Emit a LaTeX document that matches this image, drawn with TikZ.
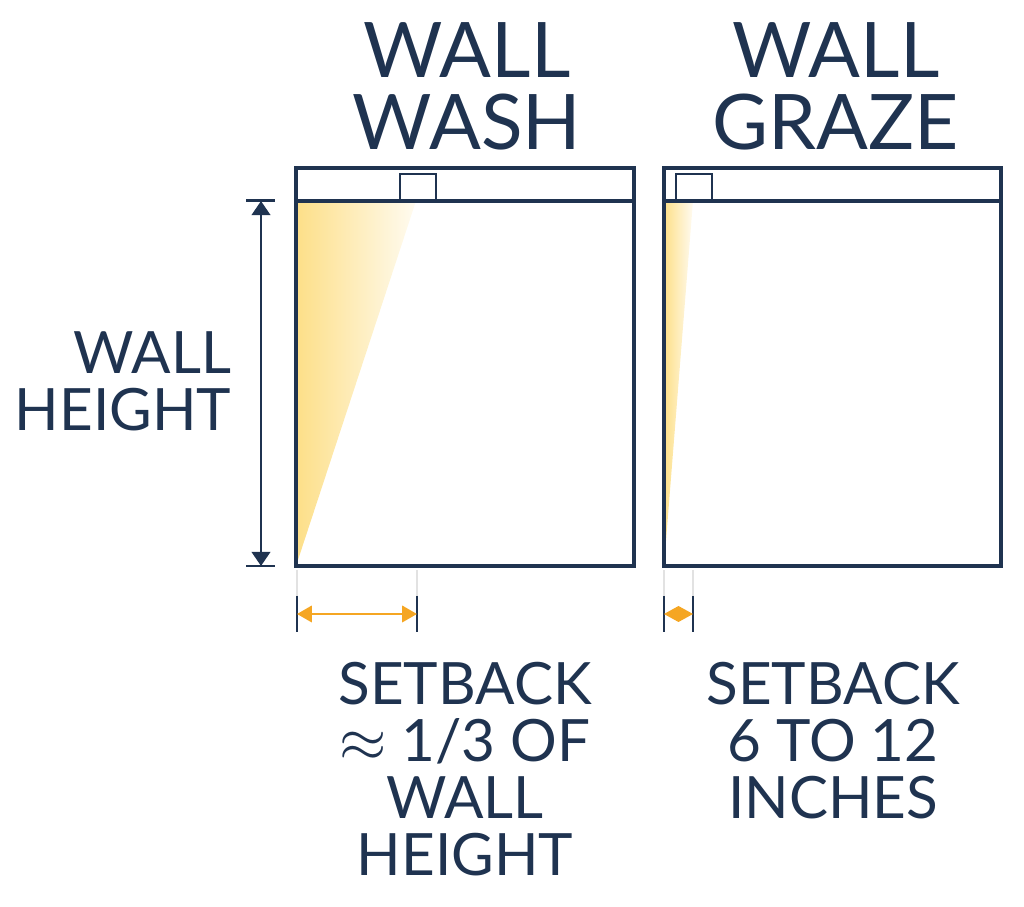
\documentclass[tikz,border=0pt]{standalone}
\usepackage{fontspec}
\setmainfont{Lato}
\usetikzlibrary{arrows.meta}
\definecolor{navy}{HTML}{1F3350}
\definecolor{amber}{HTML}{F5A623}
\definecolor{glow}{HTML}{FDDF88}
\definecolor{guide}{HTML}{E2E2E2}

\begin{document}
\begin{tikzpicture}[
    x=0.01cm, y=-0.01cm,
    wall/.style={draw=navy, line width=0.9pt},
    fixture/.style={draw=navy, line width=0.8pt},
    cone/.style={left color=glow, middle color=glow!55, right color=glow!12},
    title/.style={text=navy, align=center, inner sep=0pt, font=\fontsize{21.8}{20.4}\selectfont},
    label/.style={text=navy, inner sep=0pt, font=\fontsize{16.6}{16.2}\selectfont},
    dim/.style={draw=navy, line width=0.85pt},
    tick/.style={draw=navy, line width=0.8pt},
    setback/.style={draw=amber, line width=0.8pt, {Triangle[width=4.6pt,length=4.2pt]}-{Triangle[width=4.6pt,length=4.2pt]}},
    guideline/.style={draw=guide, line width=0.45pt}
]
    \useasboundingbox (0,0) rectangle (1024,907);

    % titles
    \node[title] (washtitle) at (467,86) {WALL\\WASH};
    \node[title] (grazetitle) at (836,86) {WALL\\GRAZE};

    % wall wash: light cone, then the wall
    \shade[cone] (296,201) -- (416,201) -- (296,566) -- cycle;
    \draw[wall] (296,168) rectangle (634,566);
    \draw[wall] (296,201) -- (634,201);
    \draw[fixture] (400,174) rectangle (436,201);

    % wall graze
    \shade[cone] (664,201) -- (693,201) -- (664,566) -- cycle;
    \draw[wall] (664,168) rectangle (1001,566);
    \draw[wall] (664,201) -- (1001,201);
    \draw[fixture] (676,174) rectangle (712,201);

    % wall height
    \coordinate (htop) at (261,201);
    \coordinate (hbot) at (261,566);
    \draw[dim] (246,201) -- (275,201);
    \draw[dim] (246,566) -- (275,566);
    \draw[dim, {Triangle[width=5.2pt,length=4pt]}-{Triangle[width=5.2pt,length=4pt]}] (htop) -- (hbot);
    \node[label, align=right, anchor=east] (height) at (232,381.5) {WALL\\HEIGHT};

    % setback, wash
    \coordinate (wa) at (297,614);
    \coordinate (wb) at (417,614);
    \draw[guideline] (297,570) -- (297,632);
    \draw[guideline] (417,570) -- (417,632);
    \draw[tick] (297,596) -- (297,632);
    \draw[tick] (417,596) -- (417,632);
    \draw[setback] (wa) -- (wb);
    \node[label, align=center] (washtext) at (465,769) {SETBACK\\$\approx$ 1/3 OF\\WALL\\HEIGHT};

    % setback, graze
    \coordinate (ga) at (664,614);
    \coordinate (gb) at (693,614);
    \draw[guideline] (664,570) -- (664,632);
    \draw[guideline] (693,570) -- (693,632);
    \draw[tick] (664,596) -- (664,632);
    \draw[tick] (693,596) -- (693,632);
    \fill[amber] (ga) -- (678.5,606) -- (gb) -- (678.5,622) -- cycle;
    \node[label, align=center] (grazetext) at (833,740.5) {SETBACK\\6 TO 12\\INCHES};
\end{tikzpicture}
\end{document}
